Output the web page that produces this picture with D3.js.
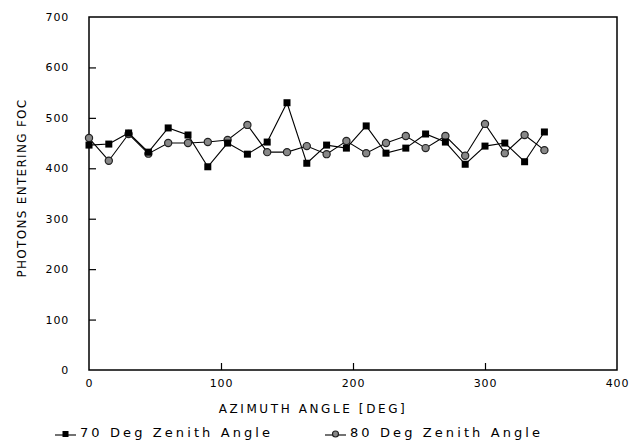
<!DOCTYPE html>
<html><head><meta charset="utf-8">
<script src="https://cdn.jsdelivr.net/npm/d3@7"></script>
<style>body{margin:0;background:#fff}svg{display:block}text{font-family:"DejaVu Sans",sans-serif;fill:#000}</style>
</head><body>
<svg id="c" width="639" height="443"></svg>
<script>
const azimuth = [0,15,30,45,60,75,90,105,120,135,150,165,180,195,210,225,240,255,270,285,300,315,330,345];
const zen70 = [446,448,470,432,480,466,403,450,428,452,530,410,446,440,484,430,440,468,452,408,444,450,413,472];
const zen80 = [460,415,468,429,450,450,452,456,486,432,432,444,428,454,430,450,464,440,464,425,488,430,466,436];
const xTicks = [0,100,200,300,400];
const yTicks = [0,100,200,300,400,500,600,700];
const seriesNames = ["70 Deg Zenith Angle","80 Deg Zenith Angle"];

const svg = d3.select("#c");
const L=89, R=617, T=17, B=370;
const x = d3.scaleLinear().domain([0,400]).range([L,R]);
const y = d3.scaleLinear().domain([0,700]).range([B,T]);

svg.append("rect").attr("x",L).attr("y",T).attr("width",R-L).attr("height",B-T)
  .attr("fill","none").attr("stroke","#000").attr("stroke-width",1.5);

const yAxis = svg.append("g").attr("transform",`translate(${L},0)`)
  .call(d3.axisLeft(y).tickValues(yTicks).tickSizeInner(-7).tickSizeOuter(0).tickPadding(20));
const xAxis = svg.append("g").attr("transform",`translate(0,${B})`)
  .call(d3.axisBottom(x).tickValues(xTicks).tickSizeInner(-7).tickSizeOuter(0).tickPadding(9));
[yAxis,xAxis].forEach(a=>{
  a.select(".domain").remove();
  a.selectAll("text").style("font-size","11px").style("letter-spacing","0.8px").attr("fill","#000");
  a.selectAll("line").attr("stroke","#000").attr("stroke-width",1.2);
});
yAxis.selectAll(".tick").filter(d=>d===0||d===700).select("line").remove();
xAxis.selectAll(".tick").filter(d=>d===0||d===400).select("line").remove();

svg.append("text").attr("transform",`translate(26,188) rotate(-90)`)
  .attr("text-anchor","middle").style("font-size","12px").style("letter-spacing","1.3px")
  .text("PHOTONS ENTERING FOC");
svg.append("text").attr("x",313).attr("y",413).attr("text-anchor","middle")
  .style("font-size","12px").style("letter-spacing","2.6px").text("AZIMUTH ANGLE [DEG]");

const line = d3.line().x((d,i)=>x(azimuth[i])).y(d=>y(d));
const plot = svg.append("g");
plot.append("path").datum(zen70).attr("d",line).attr("fill","none").attr("stroke","#000").attr("stroke-width",1.1);
plot.append("path").datum(zen80).attr("d",line).attr("fill","none").attr("stroke","#000").attr("stroke-width",1.1);

function square(g,cx,cy,s){g.append("rect").attr("x",cx-s/2).attr("y",cy-s/2).attr("width",s).attr("height",s).attr("fill","#000");}
function circ(g,cx,cy,r){g.append("circle").attr("cx",cx).attr("cy",cy).attr("r",r).attr("fill","#888").attr("stroke","#222").attr("stroke-width",1.2);}

zen80.forEach((v,i)=>circ(plot,x(azimuth[i]),y(v),3.6));
zen70.forEach((v,i)=>square(plot,x(azimuth[i]),y(v),7));

const lg = svg.append("g");
const ly = 435;
lg.append("line").attr("x1",55).attr("x2",76).attr("y1",ly).attr("y2",ly).attr("stroke","#000").attr("stroke-width",1.1);
square(lg,65.5,ly-1,6);
lg.append("text").attr("x",80).attr("y",ly+2).style("font-size","13px").style("letter-spacing","3.1px").text(seriesNames[0]);
lg.append("line").attr("x1",325).attr("x2",346).attr("y1",ly).attr("y2",ly).attr("stroke","#000").attr("stroke-width",1.1);
circ(lg,335.5,ly-1,3);
lg.append("text").attr("x",350).attr("y",ly+2).style("font-size","13px").style("letter-spacing","3.1px").text(seriesNames[1]);
</script>
</body></html>
